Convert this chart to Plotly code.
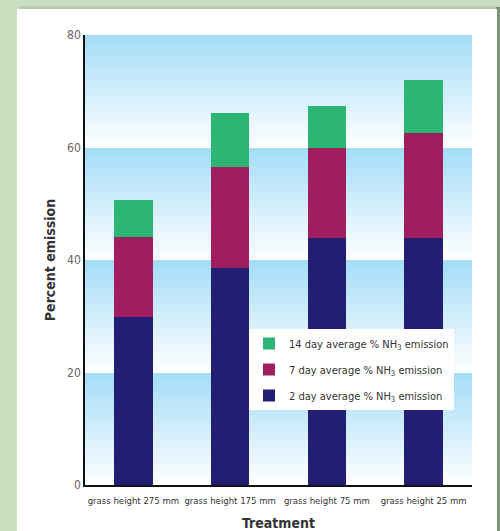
import numpy as np
import plotly.graph_objects as go

categories = ["grass height 275 mm", "grass height 175 mm", "grass height 75 mm", "grass height 25 mm"]
day2 = [29.8, 38.6, 43.9, 43.9]
day7_cum = [44.1, 56.6, 60.0, 62.5]
day14_cum = [50.7, 66.1, 67.3, 72.0]
day7 = [b - a for a, b in zip(day2, day7_cum)]
day14 = [b - a for a, b in zip(day7_cum, day14_cum)]
y_ticks = [0, 20, 40, 60, 80]

NAVY = "#221e73"
MAROON = "#a01e5f"
GREEN = "#2bb673"
BLUE = "#a3dcf7"
FONT = "DejaVu Sans Condensed, Roboto, Liberation Sans, sans-serif"

W, H = 500, 531
L, R, T, B = 85, 28, 35, 46
PW, PH = W - L - R, H - T - B

def px(x):
    return (x - L) / PW

def py(y):
    return (H - B - y) / PH

xpos = list(range(len(categories)))

# background gradient bands
edges = np.arange(0, 80.0001, 0.25)
centers = (edges[:-1] + edges[1:]) / 2
zvals = [[(c % 20) / 20.0] for c in centers]

fig = go.Figure()
fig.add_trace(go.Heatmap(
    x=[-0.5, 3.5], y=edges, z=zvals,
    colorscale=[[0, "#ffffff"], [1, BLUE]], zmin=0, zmax=1,
    showscale=False, hoverinfo="skip", showlegend=False,
))
fig.add_trace(go.Bar(x=xpos, y=day2, name="2 day average % NH<sub>3</sub> emission",
                     legendgroup="a", legendrank=3,
                     marker=dict(color=NAVY, line=dict(width=0)), width=0.4))
fig.add_trace(go.Bar(x=xpos, y=day7, name="7 day average % NH<sub>3</sub> emission",
                     legendgroup="b", legendrank=2,
                     marker=dict(color=MAROON, line=dict(width=0)), width=0.4))
fig.add_trace(go.Bar(x=xpos, y=day14, name="14 day average % NH<sub>3</sub> emission",
                     legendgroup="c", legendrank=1,
                     marker=dict(color=GREEN, line=dict(width=0)), width=0.4))

shapes = [
    dict(type="rect", xref="paper", yref="paper", x0=px(19), x1=px(499), y0=py(10), y1=py(6),
         fillcolor="#b8ccb3", line=dict(width=0), layer="below"),
    dict(type="rect", xref="paper", yref="paper", x0=px(496), x1=px(500), y0=py(540), y1=py(7),
         fillcolor="#7f937d", line=dict(width=0), layer="below"),
    dict(type="rect", xref="paper", yref="paper", x0=px(17), x1=px(497), y0=py(540), y1=py(9),
         fillcolor="#ffffff", line=dict(width=0), layer="below"),
]

fig.update_layout(
    width=W, height=H,
    margin=dict(l=L, r=R, t=T, b=B, autoexpand=False),
    paper_bgcolor="#c8dfc0",
    plot_bgcolor="#ffffff",
    barmode="stack",
    shapes=shapes,
    font=dict(family=FONT, color="#333333"),
    showlegend=True,
    legend=dict(x=px(249), y=py(329), xanchor="left", yanchor="top",
                bgcolor="#ffffff", borderwidth=0, traceorder="grouped",
                font=dict(family=FONT, size=11, color="#333333"),
                itemwidth=30, tracegroupgap=7),
    xaxis=dict(range=[-0.5, 3.5], tickmode="array", tickvals=xpos, ticktext=categories,
               showgrid=False, zeroline=False, showline=True, linecolor="#111111", linewidth=1.5,
               ticks="", tickangle=0, automargin=False, ticklabelstandoff=6,
               tickfont=dict(family=FONT, size=9.5, color="#333333"),
               title=dict(text="<b>Treatment</b>", font=dict(family=FONT, size=14, color="#333333"),
                          standoff=14)),
    yaxis=dict(range=[0, 80], tickmode="array", tickvals=y_ticks, automargin=False,
               showgrid=False, zeroline=False, showline=True, linecolor="#111111", linewidth=1.5,
               ticks="", tickfont=dict(family=FONT, size=12, color="#666666"),
               title=dict(text="<b>Percent emission</b>", font=dict(family=FONT, size=14, color="#333333"),
                          standoff=8)),
)

fig.write_html("out.html", config={"displayModeBar": False},
               post_script="document.body.style.margin='0';document.body.style.overflow='hidden';")
